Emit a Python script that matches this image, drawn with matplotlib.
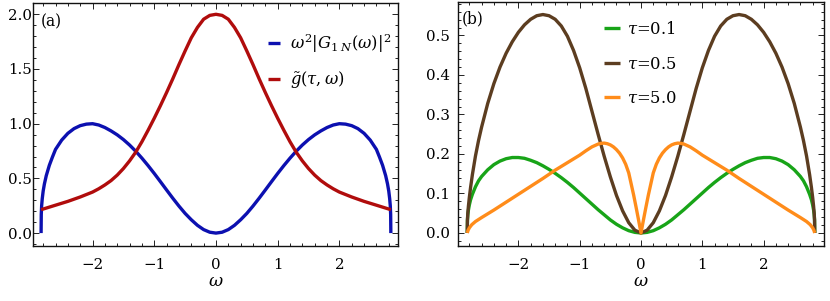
import numpy as np
import matplotlib
matplotlib.use("Agg")
import matplotlib.pyplot as plt
from matplotlib.ticker import MultipleLocator

plt.rcParams['font.family'] = ['DejaVu Serif']
plt.rcParams['mathtext.fontset'] = 'dejavuserif'

# ---------------- data (positive half; curves are symmetric in omega) ----------------
w_blue = [0, 0.1, 0.2, 0.3, 0.4, 0.5, 0.6, 0.7, 0.8, 0.9, 1.0, 1.1, 1.2, 1.3, 1.4, 1.5, 1.6, 1.7,
          1.8, 1.9, 2.0, 2.1, 2.2, 2.3, 2.4, 2.5, 2.6, 2.65, 2.7, 2.75, 2.78, 2.8, 2.815, 2.825,
          2.831, 2.834]
v_blue = [0, 0.008, 0.032, 0.071, 0.122, 0.18, 0.247, 0.319, 0.394, 0.47, 0.545, 0.617, 0.685,
          0.748, 0.805, 0.855, 0.898, 0.934, 0.965, 0.988, 1.0, 0.996, 0.982, 0.955, 0.912, 0.85,
          0.765, 0.695, 0.62, 0.525, 0.45, 0.385, 0.315, 0.25, 0.17, 0.0]

w_red = [0, 0.1, 0.2, 0.3, 0.4, 0.5, 0.6, 0.7, 0.8, 0.9, 1.0, 1.1, 1.2, 1.3, 1.4, 1.5, 1.6,
         1.7, 1.8, 1.9, 2.0, 2.2, 2.4, 2.6, 2.834]
v_red = [2.0, 1.99, 1.955, 1.88, 1.785, 1.665, 1.54, 1.41, 1.285, 1.165, 1.05, 0.94, 0.835,
         0.74, 0.66, 0.59, 0.53, 0.48, 0.44, 0.405, 0.375, 0.33, 0.29, 0.255, 0.214]

w_green = [0, 0.1, 0.2, 0.3, 0.4, 0.5, 0.6, 0.7, 0.8, 0.9, 1.0, 1.1, 1.2, 1.3, 1.4, 1.5, 1.6,
           1.7, 1.8, 1.9, 2.0, 2.1, 2.2, 2.3, 2.4, 2.5, 2.6, 2.65, 2.7, 2.75, 2.78, 2.8, 2.815,
           2.825, 2.831, 2.834]
v_green = [0, 0.0015, 0.0058, 0.013, 0.022, 0.033, 0.046, 0.059, 0.073, 0.087, 0.101, 0.115,
           0.128, 0.14, 0.151, 0.161, 0.17, 0.178, 0.184, 0.189, 0.191, 0.191, 0.188, 0.182,
           0.173, 0.16, 0.143, 0.132, 0.117, 0.098, 0.084, 0.071, 0.058, 0.046, 0.033, 0.0]

w_brown = [0, 0.1, 0.2, 0.3, 0.4, 0.5, 0.6, 0.7, 0.8, 0.9, 1.0, 1.1, 1.2, 1.3, 1.4, 1.5, 1.6,
           1.7, 1.8, 1.9, 2.0, 2.1, 2.2, 2.3, 2.4, 2.5, 2.6, 2.65, 2.7, 2.75, 2.78, 2.8, 2.815,
           2.825, 2.831, 2.834]
v_brown = [0, 0.007, 0.026, 0.056, 0.095, 0.142, 0.194, 0.25, 0.308, 0.366, 0.418, 0.462, 0.498,
           0.524, 0.541, 0.55, 0.553, 0.55, 0.541, 0.527, 0.508, 0.484, 0.455, 0.42, 0.378, 0.328,
           0.268, 0.234, 0.195, 0.148, 0.115, 0.09, 0.068, 0.05, 0.032, 0.0]

w_orange = [0, 0.04, 0.08, 0.12, 0.16, 0.2, 0.25, 0.3, 0.35, 0.4, 0.45, 0.5, 0.55, 0.6, 0.65,
            0.7, 0.8, 0.9, 1.0, 1.2, 1.4, 1.6, 1.8, 2.0, 2.2, 2.4, 2.6, 2.7, 2.76, 2.8, 2.82, 2.834]
v_orange = [0, 0.033, 0.065, 0.096, 0.124, 0.152, 0.174, 0.19, 0.202, 0.211, 0.218, 0.223, 0.226,
            0.2275, 0.227, 0.225, 0.218, 0.208, 0.197, 0.178, 0.159, 0.138, 0.118, 0.098, 0.078,
            0.058, 0.039, 0.029, 0.021, 0.013, 0.007, 0.0]

x_ticks = [-2, -1, 0, 1, 2]
x_ticklabels = ['\u22122', '\u22121', '0', '1', '2']
yticks_a = [0.0, 0.5, 1.0, 1.5, 2.0]
yticks_b = [0.0, 0.1, 0.2, 0.3, 0.4, 0.5]
labels_a = [r'$\omega^2|G_{1\;N}(\omega)|^2$', r'$\tilde{g}(\tau,\omega)$']
labels_b = [r'$\tau$=0.1', r'$\tau$=0.5', r'$\tau$=5.0']


def full(w, v):
    w = np.asarray(w, float)
    v = np.asarray(v, float)
    return np.concatenate([-w[::-1], w[1:]]), np.concatenate([v[::-1], v[1:]])


c_blue = '#0c10b0'
c_red = '#b00c0c'
c_green = '#18a418'
c_brown = '#5c3d20'
c_orange = '#ff8c1a'

FS = 10.8
LFS = 11.8

fig = plt.figure(figsize=(8.30, 3.01), dpi=100)
axa = fig.add_axes([33/830, 1-246/301, 365/830, 243.3/301])
axb = fig.add_axes([458/830, 1-246/301, 366/830, 244.5/301])

lw = 2.4
kw = dict(lw=lw, solid_capstyle='butt', solid_joinstyle='round')
axa.plot(*full(w_blue, v_blue), color=c_blue, label=labels_a[0], **kw)
axa.plot(*full(w_red, v_red), color=c_red, label=labels_a[1], **kw)

axb.plot(*full(w_green, v_green), color=c_green, label=labels_b[0], **kw)
axb.plot(*full(w_brown, v_brown), color=c_brown, label=labels_b[1], **kw)
axb.plot(*full(w_orange, v_orange), color=c_orange, label=labels_b[2], **kw)

axa.set_xlim(-2.965, 2.95)
axa.set_ylim(-0.118, 2.106)
axb.set_xlim(-2.985, 2.985)
axb.set_ylim(-0.033, 0.586)

for ax, yt, ymin, ypad in [(axa, yticks_a, 0.1, 0.5), (axb, yticks_b, 0.02, 6.0)]:
    ax.set_xticks(x_ticks)
    ax.set_xticklabels(x_ticklabels)
    ax.set_yticks(yt)
    ax.set_yticklabels(['%.1f' % t for t in yt])
    ax.xaxis.set_minor_locator(MultipleLocator(0.2))
    ax.yaxis.set_minor_locator(MultipleLocator(ymin))
    ax.tick_params(which='both', direction='in', top=True, right=True, color='#222222', width=0.7)
    ax.tick_params(which='major', length=4)
    ax.tick_params(which='minor', length=2)
    ax.tick_params(axis='x', which='major', pad=8.5, labelsize=FS)
    ax.tick_params(axis='y', which='major', pad=ypad, labelsize=FS)
    for s in ax.spines.values():
        s.set_linewidth(1.0)
        s.set_color('#111111')
    ax.set_xlabel(r'$\omega$', fontsize=12.5, labelpad=1.0)

axa.text(0.02, 0.958, '(a)', transform=axa.transAxes, fontsize=FS + 0.4, va='top', ha='left')
axb.text(0.01, 0.965, '(b)', transform=axb.transAxes, fontsize=FS + 0.4, va='top', ha='left')

axa.legend(loc='upper left', bbox_to_anchor=(0.645, 0.88), frameon=False, fontsize=LFS,
           handlelength=0.7, handletextpad=0.6, labelspacing=0.9, borderpad=0, borderaxespad=0)
axb.legend(loc='upper left', bbox_to_anchor=(0.4, 0.922), frameon=False, fontsize=LFS,
           handlelength=0.95, handletextpad=0.4, labelspacing=1.08, borderpad=0, borderaxespad=0)

fig.savefig('out.png', dpi=100)
